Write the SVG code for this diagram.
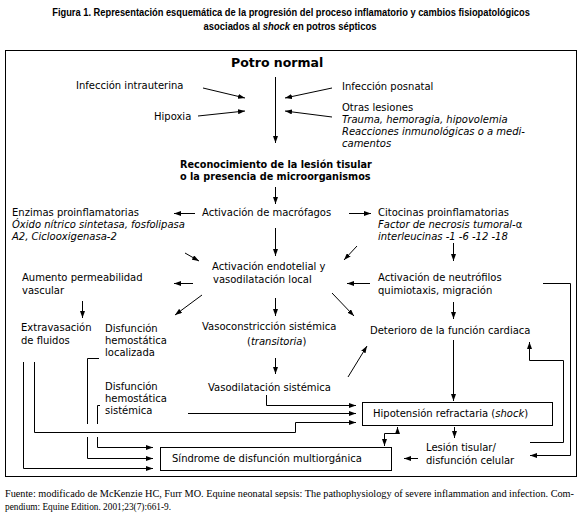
<svg xmlns="http://www.w3.org/2000/svg" width="580" height="528" viewBox="0 0 580 528">
<style>
.t{font-family:"DejaVu Sans",Verdana,sans-serif;font-size:10px;fill:#000}
.i{font-style:italic}
.b{font-weight:bold}
.big{font-size:12.5px}
.mid{font-size:9.7px}
.ttl{font-family:"Liberation Sans",Arial,sans-serif;font-weight:bold;font-size:10.5px;fill:#000}
.src{font-family:"Liberation Serif","Times New Roman",serif;font-size:9.3px;fill:#000}
.c line,.c polyline{stroke:#000;stroke-width:1;fill:none}
.a{marker-end:url(#ah)}
.box{fill:#fff;stroke:#000;stroke-width:1}
</style>
<defs>
<marker id="ah" markerWidth="7" markerHeight="5" refX="7" refY="2.5" orient="auto" markerUnits="userSpaceOnUse">
<path d="M0,0 L7,2.5 L0,5 Z" fill="#000"/>
</marker>
</defs>
<rect width="580" height="528" fill="#fff"/>
<g id="title">
<text class="ttl" transform="translate(291,16) scale(0.8,1)" x="0" y="0" text-anchor="middle" textLength="597" lengthAdjust="spacingAndGlyphs">Figura 1. Representación esquemática de la progresión del proceso inflamatorio y cambios fisiopatológicos</text>
<text class="ttl" transform="translate(290,30) scale(0.9,1)" x="0" y="0" text-anchor="middle">asociados al <tspan font-style="italic">shock</tspan> en potros sépticos</text>
</g>
<rect id="frame" x="5.5" y="50.5" width="571" height="426" fill="none" stroke="#000" stroke-width="1"/>
<g class="c" id="connectors">
<line class="a" x1="203" y1="88" x2="245" y2="98"/>
<line class="a" x1="198" y1="116" x2="245" y2="111"/>
<line class="a" x1="332" y1="88" x2="285" y2="98"/>
<line class="a" x1="332" y1="117" x2="285" y2="111"/>
<line class="a" x1="275.5" y1="77" x2="275.5" y2="143"/>
<line class="a" x1="275.5" y1="187" x2="275.5" y2="204"/>
<line class="a" x1="195" y1="213.5" x2="174" y2="213.5"/>
<line class="a" x1="349" y1="213.5" x2="371" y2="213.5"/>
<line class="a" x1="275.5" y1="228" x2="275.5" y2="256"/>
<line class="a" x1="185" y1="253" x2="199" y2="261"/>
<line class="a" x1="357" y1="246" x2="344" y2="260"/>
<line class="a" x1="453.5" y1="243" x2="453.5" y2="261"/>
<line class="a" x1="193" y1="283.5" x2="174" y2="283.5"/>
<line class="a" x1="202" y1="295" x2="175" y2="315"/>
<line class="a" x1="82.5" y1="301" x2="82.5" y2="318"/>
<line class="a" x1="275.5" y1="298" x2="275.5" y2="316"/>
<line class="a" x1="370" y1="283.5" x2="347" y2="283.5"/>
<line class="a" x1="332" y1="293" x2="354" y2="316"/>
<line class="a" x1="453.5" y1="302" x2="453.5" y2="319"/>
<polyline class="a" points="543,283.5 570.5,283.5 570.5,455.5 530,455.5"/>
<line class="a" x1="275.5" y1="358" x2="275.5" y2="374"/>
<line class="a" x1="348" y1="377" x2="367" y2="346"/>
<line class="a" x1="453.5" y1="340" x2="453.5" y2="401"/>
<polyline class="a" points="530,442.5 563.5,442.5 563.5,360.5 529.5,360.5 529.5,342"/>
<polyline class="a" points="266.5,395 266.5,405.5 356,405.5"/>
<line class="a" x1="188" y1="413.5" x2="356" y2="413.5"/>
<polyline class="a" points="34.5,362 34.5,432.5 295.5,432.5 295.5,422.5 356,422.5"/>
<polyline class="a" points="23.5,362 23.5,468.5 153,468.5"/>
<polyline points="99,358.5 87.5,358.5 87.5,424"/>
<polyline class="a" points="87.5,437 87.5,458.5 153,458.5"/>
<polyline points="100,405.5 97.5,405.5 97.5,424"/>
<polyline class="a" points="97.5,437 97.5,447.5 153,447.5"/>
<line class="a" x1="454.5" y1="427" x2="454.5" y2="438"/>
<line class="a" x1="418" y1="458.5" x2="404" y2="458.5"/>
<line class="a" x1="397.5" y1="433.5" x2="397.5" y2="427"/>
<polyline class="a" points="397.5,433.5 384.5,433.5 384.5,446"/>
</g>
<g id="n-potro"><text class="t b big" x="231" y="67">Potro normal</text></g>
<g id="n-intrauterina"><text class="t" x="76" y="89">Infección intrauterina</text></g>
<g id="n-hipoxia"><text class="t" x="154" y="120">Hipoxia</text></g>
<g id="n-posnatal"><text class="t" x="342" y="90">Infección posnatal</text></g>
<g id="n-otras">
<text class="t" x="342" y="111">Otras lesiones</text>
<text class="t i" x="342" y="123">Trauma, hemoragia, hipovolemia</text>
<text class="t i" x="342" y="135">Reacciones inmunológicas o a medi-</text>
<text class="t i" x="342" y="147">camentos</text>
</g>
<g id="n-reconocimiento">
<text class="t b mid" x="180" y="168">Reconocimiento de la lesión tisular</text>
<text class="t b mid" x="180" y="180">o la presencia de microorganismos</text>
</g>
<g id="n-enzimas">
<text class="t" x="12" y="216">Enzimas proinflamatorias</text>
<text class="t i" x="12" y="228">Óxido nítrico sintetasa, fosfolipasa</text>
<text class="t i" x="12" y="240">A2, Ciclooxigenasa-2</text>
</g>
<g id="n-macrofagos"><text class="t" x="202" y="216">Activación de macrófagos</text></g>
<g id="n-citocinas">
<text class="t" x="378" y="216">Citocinas proinflamatorias</text>
<text class="t" x="378" y="228"><tspan class="i">Factor de necrosis tumoral-</tspan>α</text>
<text class="t i" x="378" y="240">interleucinas -1 -6 -12 -18</text>
</g>
<g id="n-endotelial">
<text class="t" x="212" y="270">Activación endotelial y</text>
<text class="t" x="213" y="283">vasodilatación local</text>
</g>
<g id="n-permeabilidad">
<text class="t" x="22" y="281">Aumento permeabilidad</text>
<text class="t" x="22" y="294">vascular</text>
</g>
<g id="n-neutrofilos">
<text class="t" x="378" y="281">Activación de neutrófilos</text>
<text class="t" x="378" y="294">quimiotaxis, migración</text>
</g>
<g id="n-extravasacion">
<text class="t" x="21" y="331">Extravasación</text>
<text class="t" x="21" y="344">de fluidos</text>
</g>
<g id="n-hemo-local">
<text class="t" x="105" y="332">Disfunción</text>
<text class="t" x="105" y="344">hemostática</text>
<text class="t" x="105" y="356">localizada</text>
</g>
<g id="n-vasoconstriccion">
<text class="t" x="202" y="330">Vasoconstricción sistémica</text>
<text class="t" x="247" y="345">(<tspan class="i">transitoria</tspan>)</text>
</g>
<g id="n-deterioro"><text class="t" x="370" y="334">Deterioro de la función cardiaca</text></g>
<g id="n-vasodilatacion"><text class="t" x="208" y="391">Vasodilatación sistémica</text></g>
<g id="n-hemo-sist">
<text class="t" x="105" y="390">Disfunción</text>
<text class="t" x="105" y="402">hemostática</text>
<text class="t" x="105" y="414">sistémica</text>
</g>
<g id="n-hipotension">
<rect class="box" x="362.5" y="402.5" width="190" height="23"/>
<text class="t" x="373" y="417">Hipotensión refractaria (<tspan class="i">shock</tspan>)</text>
</g>
<g id="n-lesion">
<text class="t" x="426" y="451">Lesión tisular/</text>
<text class="t" x="426" y="464">disfunción celular</text>
</g>
<g id="n-sindrome">
<rect class="box" x="160.5" y="447.5" width="231" height="23"/>
<text class="t" x="172" y="462">Síndrome de disfunción multiorgánica</text>
</g>
<g id="source">
<text class="src" x="5" y="497" textLength="569" lengthAdjust="spacingAndGlyphs">Fuente: modificado de McKenzie HC, Furr MO. Equine neonatal sepsis: The pathophysiology of severe inflammation and infection. Com-</text>
<text class="src" x="5" y="510">pendium: Equine Edition. 2001;23(7):661-9.</text>
</g>
</svg>
